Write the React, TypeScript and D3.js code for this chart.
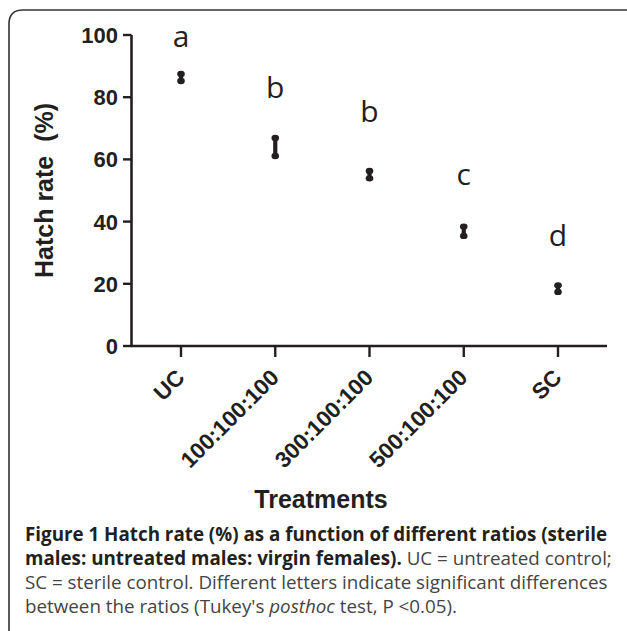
import * as d3 from "d3";

const categories = ["UC", "100:100:100", "300:100:100", "500:100:100", "SC"];
// error bar ends (hatch rate %)
const upper = [87.5, 66.9, 56.3, 38.4, 19.5];
const lower = [85.2, 61.1, 53.9, 35.4, 17.4];
// Tukey group letters and the height they sit at
const letters = ["a", "b", "b", "c", "d"];
const letterAt = [96.1, 79.7, 72.0, 51.8, 32.2];
const yTicks = [0, 20, 40, 60, 80, 100];

const W = 627;
const H = 631;

const App = () => {
    const x = d3
        .scalePoint()
        .domain(categories)
        .range([181, 558]);
    const y = d3.scaleLinear().domain([0, 100]).range([346, 35]);

    const axisFont = "'Liberation Sans', Arial, sans-serif";
    const capFont = "'Open Sans', sans-serif";

    return (
        <svg
            width={W}
            height={H}
            style={{ position: "absolute", left: 0, top: 0, background: "#fff" }}
        >
            {/* frame */}
            <path
                d={`M9,${H + 5} L9,24 Q9,10 23,10 L${W + 5},10`}
                fill="none"
                stroke="#333"
                strokeWidth={1.6}
            />

            {/* y axis */}
            <line x1={131.5} x2={131.5} y1={y(100)} y2={y(0) + 1} stroke="#231f20" strokeWidth={2.6} />
            {yTicks.map((t) => (
                <g key={t}>
                    <line x1={123} x2={131.5} y1={y(t)} y2={y(t)} stroke="#231f20" strokeWidth={2.4} />
                    <text
                        x={118}
                        y={y(t)}
                        dy="0.36em"
                        textAnchor="end"
                        fontFamily={axisFont}
                        fontWeight="bold"
                        fontSize={22}
                        fill="#231f20"
                    >
                        {t}
                    </text>
                </g>
            ))}
            <text
                transform={`translate(53,${(y(0) + y(100)) / 2}) rotate(-90)`}
                textAnchor="middle"
                fontFamily={axisFont}
                fontWeight="bold"
                fontSize={25}
                fill="#231f20"
                style={{ whiteSpace: "pre" }}
            >
                {"Hatch rate  (%)"}
            </text>

            {/* x axis */}
            <line x1={130.5} x2={607} y1={y(0)} y2={y(0)} stroke="#231f20" strokeWidth={2.6} />
            {categories.map((c) => (
                <g key={c}>
                    <line x1={x(c)} x2={x(c)} y1={y(0)} y2={y(0) + 11} stroke="#231f20" strokeWidth={2.4} />
                    <text
                        transform={`translate(${x(c)! + 5},379) rotate(-45)`}
                        textAnchor="end"
                        fontFamily={axisFont}
                        fontWeight="bold"
                        fontSize={22.5}
                        fill="#231f20"
                    >
                        {c}
                    </text>
                </g>
            ))}
            <text
                x={321}
                y={508}
                textAnchor="middle"
                fontFamily={axisFont}
                fontWeight="bold"
                fontSize={25}
                fill="#231f20"
            >
                Treatments
            </text>

            {/* error bars */}
            {categories.map((c, i) => (
                <g key={c} fill="#231f20">
                    <line
                        x1={x(c)}
                        x2={x(c)}
                        y1={y(upper[i])}
                        y2={y(lower[i])}
                        stroke="#231f20"
                        strokeWidth={4.2}
                    />
                    <ellipse cx={x(c)} cy={y(upper[i])} rx={3.8} ry={3.2} />
                    <ellipse cx={x(c)} cy={y(lower[i])} rx={3.8} ry={3.2} />
                </g>
            ))}

            {/* letters */}
            {categories.map((c, i) => (
                <text
                    key={c}
                    x={x(c)}
                    y={y(letterAt[i])}
                    textAnchor="middle"
                    fontFamily={capFont}
                    fontSize={30}
                    fill="#231f20"
                >
                    {letters[i]}
                </text>
            ))}

            {/* caption */}
            <g fontFamily={capFont} fontSize={18.8} fill="#231f20">
                <text x={25} y={541} fontWeight="bold">
                    Figure 1 Hatch rate (%) as a function of different ratios (sterile
                </text>
                <text x={25} y={565}>
                    <tspan fontWeight="bold">males: untreated males: virgin females).</tspan>
                    <tspan fill="#444"> UC = untreated control;</tspan>
                </text>
                <text x={25} y={589} fill="#444">
                    SC = sterile control. Different letters indicate significant differences
                </text>
                <text x={25} y={613} fill="#444">
                    between the ratios (Tukey's <tspan fontStyle="italic">posthoc</tspan> test, P {"<"}0.05).
                </text>
            </g>
        </svg>
    );
};

export default App;
